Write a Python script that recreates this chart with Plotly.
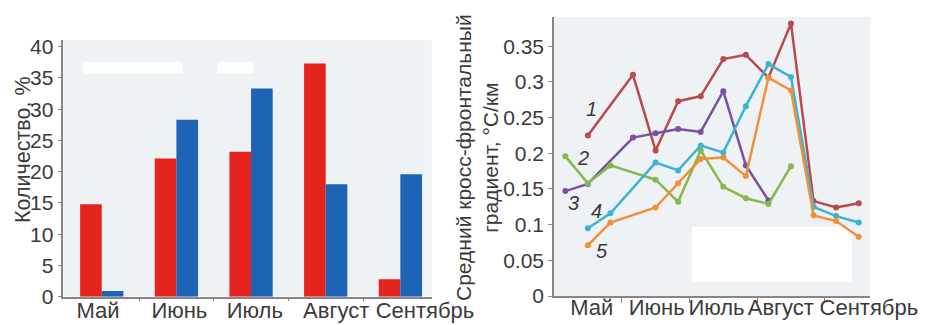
import plotly.graph_objects as go

# ---------- data ----------
months = ["Май", "Июнь", "Июль", "Август", "Сентябрь"]
bars_red = [14.8, 22.1, 23.2, 37.3, 2.8]
bars_blue = [0.9, 28.3, 33.3, 18.0, 19.6]

# decade index (0 = 1st decade of May ... 14 = 3rd decade of September)
s1_dec = [1, 3, 4, 5, 6, 7, 8, 9, 10, 11, 12, 13]
s1_val = [0.225, 0.310, 0.204, 0.273, 0.280, 0.332, 0.338, 0.306, 0.382, 0.133, 0.124, 0.130]

s2_dec = [0, 1, 3, 4, 5, 6, 7, 8, 9]
s2_val = [0.147, 0.157, 0.222, 0.228, 0.234, 0.230, 0.287, 0.183, 0.134]

s3_dec = [0, 1, 2, 4, 5, 6, 7, 8, 9, 10]
s3_val = [0.196, 0.158, 0.183, 0.163, 0.132, 0.204, 0.153, 0.137, 0.129, 0.182]

s4_dec = [1, 2, 4, 5, 6, 7, 8, 9, 10, 11, 12, 13]
s4_val = [0.095, 0.116, 0.187, 0.176, 0.211, 0.201, 0.266, 0.325, 0.307, 0.125, 0.112, 0.103]

s5_dec = [1, 2, 4, 5, 6, 7, 8, 9, 10, 11, 12, 13]
s5_val = [0.071, 0.103, 0.124, 0.158, 0.192, 0.194, 0.168, 0.306, 0.288, 0.113, 0.105, 0.083]

series_names = ["1", "2", "3", "4", "5"]
series_colors = ["#b84a4c", "#7a4fa6", "#86b850", "#3eb3cf", "#f09038"]

FONT = "Liberation Sans, Arial, sans-serif"
TXT = "#3a3a3a"
AX = "#8c8484"

# page body has an 8px margin; figure sized to fit the 927x325 window
OFF = 8
W, H = 927 - OFF, 325 - OFF


def px(x):
    return (x - OFF) / W


def py(y):
    return 1 - (y - OFF) / H


fig = go.Figure()

# ---------- left: bars ----------
bar_x = list(range(len(months)))
fig.add_trace(go.Bar(x=bar_x, y=bars_red, marker=dict(color="#e52420", line=dict(width=0)),
                     xaxis="x", yaxis="y", showlegend=False))
fig.add_trace(go.Bar(x=bar_x, y=bars_blue, marker=dict(color="#1d63b6", line=dict(width=0)),
                     xaxis="x", yaxis="y", showlegend=False))

# ---------- right: lines ----------
all_dec = [s1_dec, s2_dec, s3_dec, s4_dec, s5_dec]
all_val = [s1_val, s2_val, s3_val, s4_val, s5_val]
for name, dec, val, col in zip(series_names, all_dec, all_val, series_colors):
    fig.add_trace(go.Scatter(x=[d + 0.5 for d in dec], y=val, mode="lines+markers",
                             name=name, line=dict(color=col, width=2.5),
                             marker=dict(color=col, size=6),
                             xaxis="x2", yaxis="y2", showlegend=False))

# series labels
label_pos = [(1.67, 0.262), (1.27, 0.194), (0.85, 0.130), (1.89, 0.119), (2.11, 0.063)]
annotations = []
for name, (lx, ly) in zip(series_names, label_pos):
    annotations.append(dict(x=lx, y=ly, xref="x2", yref="y2", text="<i>" + name + "</i>",
                            showarrow=False, xanchor="center", yanchor="middle",
                            font=dict(family=FONT, size=20, color=TXT)))

# axis titles
annotations.append(dict(x=px(23), y=py(150), xref="paper", yref="paper",
                        text="Количество, %", textangle=-90, showarrow=False,
                        xanchor="center", yanchor="middle",
                        font=dict(family=FONT, size=21.5, color=TXT)))
annotations.append(dict(x=px(477), y=py(158), xref="paper", yref="paper",
                        text="Средний кросс-фронтальный<br>градиент, °C/км", textangle=-90,
                        showarrow=False, align="center", xanchor="center", yanchor="middle",
                        font=dict(family=FONT, size=21, color=TXT)))

shapes = [
    dict(type="rect", xref="x2", yref="y2", x0=6.1, x1=13.2, y0=0.02, y1=0.097,
         fillcolor="white", line=dict(width=0), layer="below"),
    dict(type="rect", xref="x", yref="y", x0=-0.25, x1=1.08, y0=35.7, y1=37.6,
         fillcolor="rgba(255,255,255,0.8)", line=dict(width=0), layer="below"),
    dict(type="rect", xref="x", yref="y", x0=1.55, x1=2.03, y0=35.7, y1=37.6,
         fillcolor="rgba(255,255,255,0.8)", line=dict(width=0), layer="below"),
]

yfont = dict(family=FONT, size=21, color=TXT)
xfont = dict(family=FONT, size=22, color=TXT)

# month label positions (as set in the original figure)
left_label_pos = [-0.05, 1.04, 2.05, 3.14, 4.33]
right_label_pos = [1.67, 4.55, 7.2, 10.05, 13.95]

fig.update_layout(
    width=W, height=H,
    margin=dict(l=0, r=0, t=0, b=0),
    paper_bgcolor="white",
    plot_bgcolor="#eef2f5",
    barmode="group", bargap=0.42, bargroupgap=0,
    annotations=annotations,
    shapes=shapes,
    xaxis=dict(domain=[px(63.3), px(431.7)], anchor="y",
               range=[-0.515, 4.42], showgrid=False, zeroline=False,
               showline=True, linecolor=AX, linewidth=1.5, tickangle=0,
               tickvals=left_label_pos, ticktext=months, ticks="",
               minor=dict(tickmode="array", tickvals=[0.5, 1.5, 2.5, 3.5], ticks="outside",
                          ticklen=3, tickcolor=AX, showgrid=False),
               ticklabelstandoff=-7,
               tickfont=xfont, automargin=False),
    yaxis=dict(domain=[py(296.7), py(40)], anchor="x",
               range=[0, 41.07], tickvals=[0, 5, 10, 15, 20, 25, 30, 35, 40],
               showgrid=False, zeroline=False, showline=True, linecolor=AX, linewidth=1.5,
               ticks="outside", ticklen=4, tickcolor=AX, tickfont=yfont, automargin=False),
    xaxis2=dict(domain=[px(554), px(870)], anchor="y2", range=[0, 14],
                tickvals=right_label_pos, ticktext=months, ticks="", tickangle=0,
                minor=dict(tickmode="array", tickvals=[3, 6, 9, 12], ticks="outside",
                           ticklen=5, tickcolor=AX, showgrid=False),
                ticklabelstandoff=-9,
                showgrid=False, zeroline=False, showline=True, linecolor=AX, linewidth=1.5,
                tickfont=xfont, automargin=False),
    yaxis2=dict(domain=[py(296), py(17)], anchor="x2",
                range=[0, 0.391], tickvals=[0, 0.05, 0.1, 0.15, 0.2, 0.25, 0.3, 0.35],
                showgrid=False, zeroline=False, showline=True, linecolor=AX, linewidth=1.5,
                ticks="outside", ticklen=4, tickcolor=AX, tickfont=yfont, automargin=False),
)

fig.write_html("out.html")
